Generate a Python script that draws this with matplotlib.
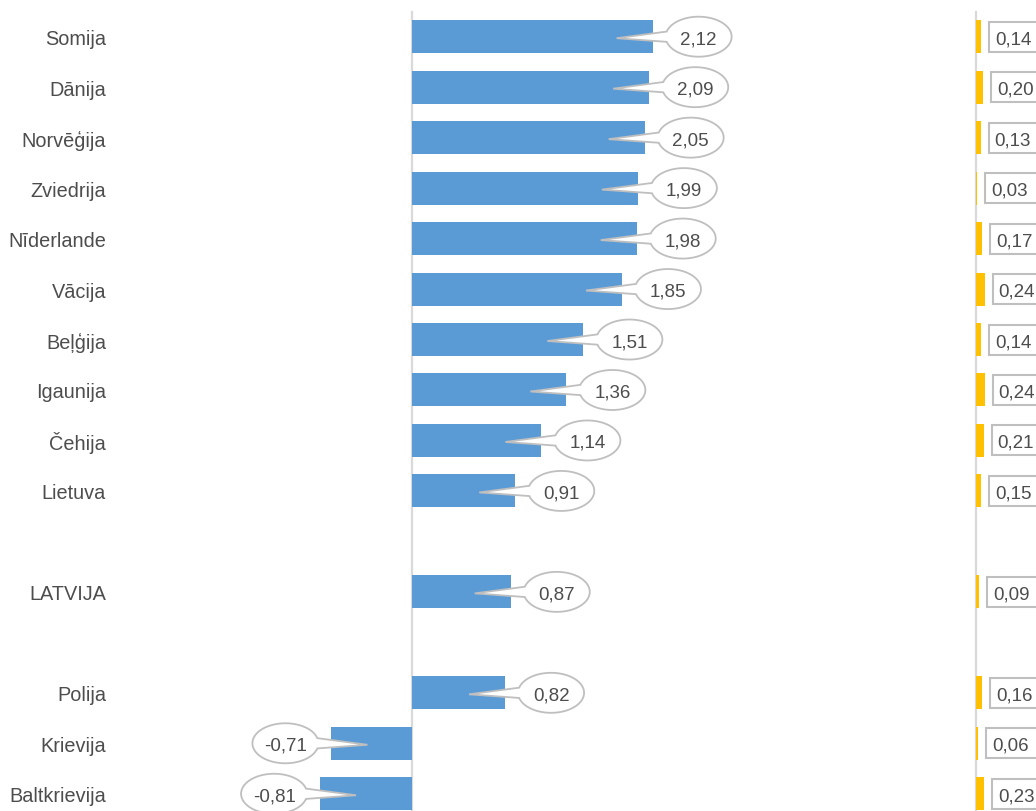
import matplotlib.pyplot as plt
from matplotlib.patches import Polygon, Rectangle
import numpy as np

countries = ['Somija', 'Dānija', 'Norvēģija', 'Zviedrija', 'Nīderlande', 'Vācija',
             'Beļģija', 'Igaunija', 'Čehija', 'Lietuva', '', 'LATVIJA', '',
             'Polija', 'Krievija', 'Baltkrievija']
main_values = [2.12, 2.09, 2.05, 1.99, 1.98, 1.85, 1.51, 1.36, 1.14, 0.91,
               np.nan, 0.87, np.nan, 0.82, -0.71, -0.81]
side_values = [0.14, 0.20, 0.13, 0.03, 0.17, 0.24, 0.14, 0.24, 0.21, 0.15,
               np.nan, 0.09, np.nan, 0.16, 0.06, 0.23]

W, H = 1036, 812
blue = '#5b9bd5'
yellow = '#ffc000'
grey_line = '#d9d9d9'
edge = '#bfbfbf'
txt = '#4d4d4d'
font = ['Liberation Sans', 'DejaVu Sans']

# pixel scales
ppu = 113.5      # px per unit, main panel
zero_px = 412
ppu2 = 36.0      # px per unit, side panel
zero2_px = 976
row_px = 50.47
first_row = 37.7

fig = plt.figure(figsize=(W / 100, H / 100), dpi=100)
ax = fig.add_axes([0, 0, 1, 1])
ax2 = fig.add_axes([0, 0, 1, 1])
for a in (ax, ax2):
    a.axis('off')
    a.set_ylim((H - first_row) / row_px, -first_row / row_px)
ax.set_xlim(-zero_px / ppu, (W - zero_px) / ppu)
ax2.set_xlim(-zero2_px / ppu2, (W - zero2_px) / ppu2)

y = np.arange(len(countries))
mv = np.array(main_values)
sv = np.array(side_values)
m = ~np.isnan(mv)
bar_h = 33 / row_px

ax.axvline(0, ymin=0, ymax=1 - 13 / H, color=grey_line, lw=1.6, zorder=1)
ax2.axvline(0, ymin=0, ymax=1 - 13 / H, color=grey_line, lw=1.6, zorder=1)

ax.barh(y[m], mv[m], height=bar_h, color=blue, zorder=2)
ax2.barh(y[m], sv[m], height=bar_h, color=yellow, zorder=2)

# category labels
for yi, name in zip(y, countries):
    if name:
        ax.text((106 - zero_px) / ppu, yi, name, ha='right', va='center_baseline',
                fontsize=14.3, color=txt, family=font)

# callout bubbles
dx = 1 / ppu
dy = 1 / row_px
for yi, v in zip(y[m], mv[m]):
    s = 1 if v >= 0 else -1
    cx = v + s * 46 * dx
    a_, b_ = 33 * dx, 20 * dy
    th0 = np.pi if s > 0 else 0.0
    d = 0.26
    t = np.linspace(th0 + d, th0 + 2 * np.pi - d, 120)
    pts = list(zip(cx + a_ * np.cos(t), yi + b_ * np.sin(t)))
    pts.append((v - s * 36 * dx, yi + 1.5 * dy))
    ax.add_patch(Polygon(pts, closed=True, fc='white', ec=edge, lw=1.3,
                         zorder=3, clip_on=False))
    ax.text(cx, yi, f'{v:.2f}'.replace('.', ','), ha='center', va='center_baseline',
            fontsize=13.5, color=txt, family=font, zorder=4)

# side boxes
dx2 = 1 / ppu2
for yi, v in zip(y[m], sv[m]):
    left = v + 8 * dx2
    ax2.add_patch(Rectangle((left, yi - 15 * dy), 60 * dx2, 30 * dy,
                            fc='white', ec=edge, lw=1.5, zorder=3, clip_on=False))
    ax2.text(left + 6 * dx2, yi, f'{v:.2f}'.replace('.', ','), ha='left',
             va='center_baseline', fontsize=13.5, color=txt, family=font, zorder=4)

fig.savefig('out.png', dpi=100)
